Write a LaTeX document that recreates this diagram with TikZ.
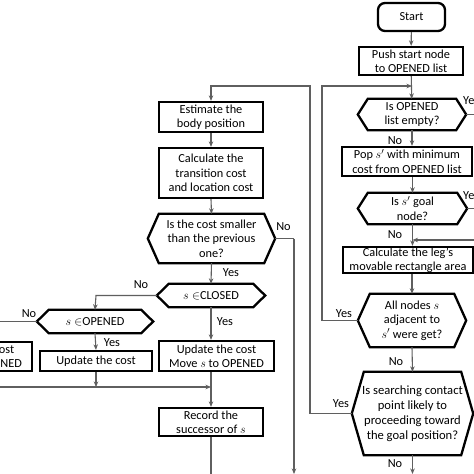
\documentclass[tikz,border=0pt]{standalone}
\usepackage{fontspec}
\setmainfont{Carlito}
\usetikzlibrary{arrows.meta,calc}
\definecolor{linegray}{RGB}{95,95,95}
\newcommand\myhex[2]{\draw[line width=2.3pt, line join=miter] (#1.west) -- ($(#1.north west)+(#2,0)$) -- ($(#1.north east)+(-#2,0)$) -- (#1.east) -- ($(#1.south east)+(-#2,0)$) -- ($(#1.south west)+(#2,0)$) -- cycle;}
\tikzset{
  box/.style={draw=black, line width=2.3pt, inner sep=0pt, align=center, font=\fontsize{12.3}{14.4}\selectfont},
  hexn/.style={inner sep=0pt, align=center, font=\fontsize{12.3}{14.4}\selectfont},
  lbl/.style={inner sep=0pt, font=\fontsize{12.3}{14}\selectfont},
  conn/.style={draw=linegray, line width=1.1pt},
  arr/.style={conn, -{Stealth[length=5.5pt,width=4.5pt]}}
}
\begin{document}
\begin{tikzpicture}[x=1pt,y=-1pt]
\useasboundingbox (0,0) rectangle (474,474);
\clip (0,0) rectangle (474,474);
\fill[white] (0,0) rectangle (474,474);
% right column
\node[box, rounded corners=7pt, minimum width=67, minimum height=28] (start) at (411.5,17) {Start};
\node[box, minimum width=104, minimum height=28] (push) at (411,61) {Push start node\\to OPENED list};
\node[hexn, minimum width=108, minimum height=31] (openq) at (412,114.5) {Is OPENED\\list empty?};
\myhex{openq}{10}
\node[box, minimum width=130, minimum height=29] (pop) at (407,161.5) {Pop $s'$ with minimum\\cost from OPENED list};
\node[hexn, minimum width=109, minimum height=31] (goalq) at (412.5,208.5) {Is $s'$ goal\\node?};
\myhex{goalq}{10}
\node[box, minimum width=130, minimum height=26] (leg) at (408,260) {Calculate the leg’s\\movable rectangle area};
\node[hexn, minimum width=108, minimum height=53] (allq) at (412,320.5) {All nodes $s$\\adjacent to\\$s'$ were get?};
\myhex{allq}{12}
\node[hexn, minimum width=121, minimum height=83, font=\fontsize{12.6}{15}\selectfont] (searchq) at (412.5,413.5) {Is searching contact\\point likely to\\proceeding toward\\the goal position?};
\myhex{searchq}{12}
% left column
\node[box, minimum width=104, minimum height=30] (est) at (211,117) {Estimate the\\body position};
\node[box, minimum width=104, minimum height=50] (calc) at (211,173) {Calculate the\\transition cost\\and location cost};
\node[hexn, minimum width=127, minimum height=49] (smq) at (211.5,238.5) {Is the cost smaller\\than the previous\\one?};
\myhex{smq}{11}
\node[hexn, minimum width=108, minimum height=23] (clq) at (211,295.5) {$s\in$CLOSED};
\myhex{clq}{12}
\node[hexn, minimum width=116, minimum height=23] (opq) at (95,321.5) {$s\in$OPENED};
\myhex{opq}{12}
\node[box, minimum width=112, minimum height=20] (updc) at (96,361) {Update the cost};
\node[box, minimum width=115, minimum height=30] (updm) at (216.5,356) {Update the cost\\Move $s$ to OPENED};
\node[box, minimum width=115, minimum height=29] (updl) at (-25.5,356.5) {Update the cost\\Move $s$ to OPENED};
\node[box, minimum width=104, minimum height=28] (rec) at (211,422) {Record the\\successor of $s$};
% coordinates
\coordinate (lpA) at (322,86);
\coordinate (lpT) at (412,86);
\coordinate (lpB) at (310,86);
\coordinate (lpC) at (211,86);
\coordinate (oqR) at (480,114.5);
\coordinate (gqR) at (480,208.5);
\coordinate (rin) at (480,240);
\coordinate (rj) at (412.5,240);
\coordinate (sBot) at (412.5,474);
\coordinate (nBot) at (294,474);
\coordinate (nR) at (294,238.5);
\coordinate (rBot) at (211,474);
\coordinate (oL) at (-5,321.5);
\coordinate (hL) at (-5,387);
\coordinate (hR) at (211,387);
\coordinate (hU) at (96,387);
\coordinate (cJ) at (96,295.5);
% right connectors
\draw[arr] (start) -- (push);
\draw[arr] (push) -- (openq);
\draw[conn] (openq.east) -- (oqR);
\draw[arr] (openq.south) -- (openq.south |- pop.north);
\draw[arr] (goalq.north |- pop.south) -- (goalq.north);
\draw[conn] (goalq.east) -- (gqR);
\draw[arr] (goalq.south) -- (goalq.south |- leg.north);
\draw[arr] (rin) -- (rj);
\draw[arr] (allq.north |- leg.south) -- (allq.north);
\draw[arr] (allq.south) -- (searchq.north);
\draw[arr] (searchq.south) -- (sBot);
\draw[arr] (allq.west) -| (lpA) -- (lpT);
\draw[arr] (searchq.west) -| (lpB) -- (lpC) -- (est.north);
% left connectors
\draw[arr] (est) -- (calc);
\draw[arr] (calc.south) -- (smq.north);
\draw[conn] (smq.east) -- (nR);
\draw[arr] (nR) -- (nBot);
\draw[arr] (smq.south) -- (clq.north);
\draw[arr] (clq.west) -- (cJ) -- (opq.north);
\draw[conn] (opq.west) -- (oL);
\draw[arr] (opq.south) -- (updc.north);
\draw[arr] (updc.south) -- (hU);
\draw[arr] (hL) -- (hR);
\draw[arr] (clq.south) -- (clq.south |- updm.north);
\draw[arr] (clq.south |- updm.south) -- (rec.north);
\draw[conn] (rec.south) -- (rBot);
% labels
\node[lbl] (l1) at (395,141) {No};
\node[lbl, anchor=west] (l2) at (463,101) {Yes};
\node[lbl, anchor=west] (l3) at (463,196) {Yes};
\node[lbl] (l4) at (395,235) {No};
\node[lbl] (l5) at (344,314) {Yes};
\node[lbl] (l6) at (396,362) {No};
\node[lbl] (l7) at (341,404) {Yes};
\node[lbl] (l8) at (395,464) {No};
\node[lbl] (l9) at (283.5,227) {No};
\node[lbl] (l10) at (231,273) {Yes};
\node[lbl] (l11) at (141,285) {No};
\node[lbl] (l12) at (225,322) {Yes};
\node[lbl] (l13) at (29,314) {No};
\node[lbl] (l14) at (112,343) {Yes};
\end{tikzpicture}
\end{document}
